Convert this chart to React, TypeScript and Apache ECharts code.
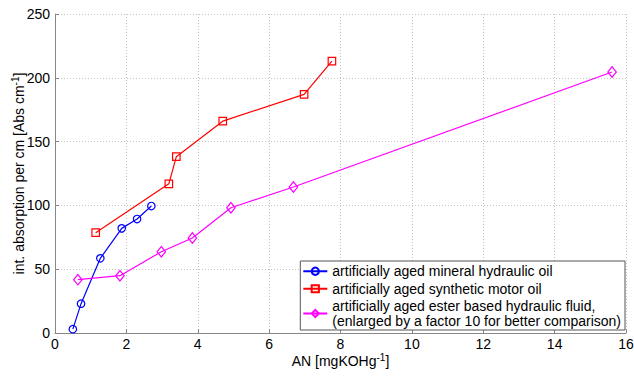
import React, { useEffect, useRef } from "react";
import * as echarts from "echarts";

const mineralAN = [0.5, 0.73, 1.27, 1.87, 2.3, 2.7];
const mineralAbs = [3, 23, 58.5, 82, 89.3, 99.5];

const motorAN = [1.14, 3.19, 3.4, 4.7, 6.98, 7.76];
const motorAbs = [78.6, 116.9, 138.2, 166, 187, 213];

const esterAN = [0.64, 1.82, 2.98, 3.85, 4.93, 6.68, 15.61];
const esterAbs = [41.8, 44.9, 63.7, 74.4, 98.2, 114.4, 204.5];

const seriesNames = [
  "artificially aged mineral hydraulic oil",
  "artificially aged synthetic motor oil",
  "artificially aged ester based hydraulic fluid,\n(enlarged by a factor 10 for better comparison)",
];

const zip = (a: number[], b: number[]) => a.map((v, i) => [v, b[i]]);

const FONT = "Liberation Sans, Arial, sans-serif";

export default function App() {
  const ref = useRef<HTMLDivElement>(null);
  useEffect(() => {
    if (!ref.current) return;
    const chart = echarts.init(ref.current, undefined, { renderer: "svg" });
    const mk = (name: string, data: number[][], color: string, symbol: string, size: any) => ({
      name,
      type: "line",
      data,
      symbol,
      symbolSize: size,
      showSymbol: true,
      color,
      lineStyle: { color, width: 1.2 },
      itemStyle: { color: "rgba(0,0,0,0)", borderColor: color, borderWidth: 1.2 },
      emphasis: { disabled: true },
    });
    const nameStyle = {
      fontSize: 14,
      color: "#000",
      fontFamily: FONT,
      rich: { sup: { fontSize: 10, verticalAlign: "top", padding: [0, 0, 8, 0], color: "#000", fontFamily: FONT } },
    };
    chart.setOption({
      animation: false,
      textStyle: { fontFamily: FONT },
      grid: { left: 55, right: 8, top: 14, bottom: 43, show: false, outerBoundsMode: "none", containLabel: false },
      xAxis: {
        type: "value",
        min: 0,
        max: 16,
        interval: 2,
        name: "AN [mgKOHg{sup|-1}]",
        nameLocation: "middle",
        nameGap: 19,
        nameMoveOverlap: false,
        nameTextStyle: nameStyle,
        axisLine: { show: true, lineStyle: { color: "#888", width: 1 } },
        axisTick: { show: true, inside: true, length: 4, lineStyle: { color: "#888" } },
        axisLabel: { color: "#000", fontSize: 14, margin: 4, fontFamily: FONT },
        splitLine: { show: true, lineStyle: { color: "#c4c4c4", type: [1, 2], width: 1 } },
      },
      yAxis: {
        type: "value",
        min: 0,
        max: 250,
        interval: 50,
        name: "int. absorption per cm [Abs cm{sup|-1}]",
        nameLocation: "middle",
        nameGap: 27,
        nameMoveOverlap: false,
        nameTextStyle: nameStyle,
        axisLine: { show: true, lineStyle: { color: "#888", width: 1 } },
        axisTick: { show: true, inside: true, length: 4, lineStyle: { color: "#888" } },
        axisLabel: { color: "#000", fontSize: 14, margin: 5, fontFamily: FONT },
        splitLine: { show: true, lineStyle: { color: "#c4c4c4", type: [1, 2], width: 1 } },
      },
      legend: {
        show: true,
        orient: "vertical",
        right: 9,
        bottom: 46,
        backgroundColor: "#fff",
        borderColor: "#555",
        borderWidth: 1,
        padding: [3, 4, 2, 2],
        itemGap: 3,
        itemWidth: 24,
        itemHeight: 9,
        textStyle: { fontSize: 14, color: "#000", fontFamily: FONT, lineHeight: 14.5 },
        data: seriesNames,
      },
      series: [
        mk(seriesNames[0], zip(mineralAN, mineralAbs), "#0000ff", "circle", 7.5),
        mk(seriesNames[1], zip(motorAN, motorAbs), "#ff0000", "rect", 7.5),
        mk(seriesNames[2], zip(esterAN, esterAbs), "#ff00ff", "diamond", [8.5, 10.5]),
      ],
    });
    return () => chart.dispose();
  }, []);
  return <div ref={ref} style={{ width: 634, height: 376, position: "absolute", left: 0, top: 0, background: "#fff" }} />;
}
